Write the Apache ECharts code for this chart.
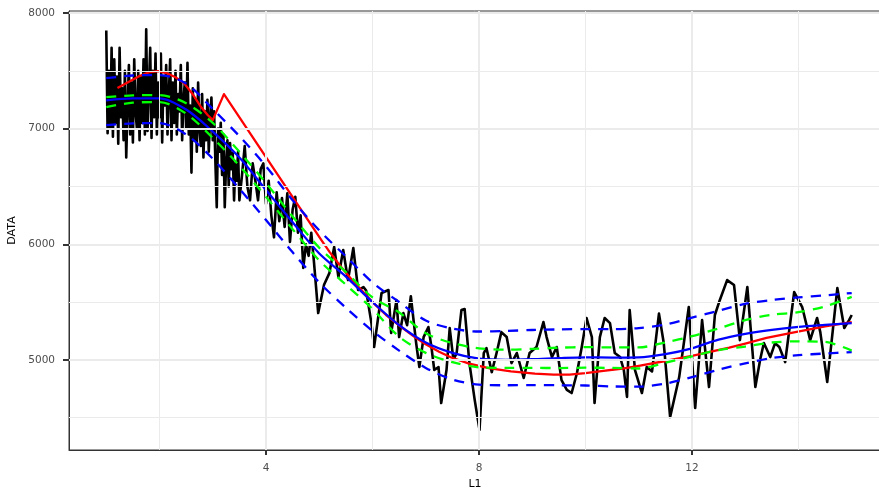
<!DOCTYPE html>
<html>
<head>
<meta charset="utf-8">
<script src="https://cdn.jsdelivr.net/npm/echarts@6/dist/echarts.min.js"></script>
<style>
  html, body { margin: 0; padding: 0; background: #ffffff; }
  #chart { width: 879px; height: 489px; }
</style>
</head>
<body>
<div id="chart"></div>
<script>
// Observed series (L1 vs DATA)
const blackX = [
  1.000, 1.025, 1.050, 1.075, 1.100, 1.125, 1.150, 1.175, 1.200, 1.225,
  1.250, 1.275, 1.300, 1.325, 1.350, 1.375, 1.400, 1.425, 1.450, 1.475,
  1.500, 1.525, 1.550, 1.575, 1.600, 1.625, 1.650, 1.675, 1.700, 1.725,
  1.750, 1.775, 1.800, 1.825, 1.850, 1.875, 1.900, 1.925, 1.950, 1.975,
  2.000, 2.025, 2.050, 2.075, 2.100, 2.125, 2.150, 2.175, 2.200, 2.225,
  2.250, 2.275, 2.300, 2.325, 2.350, 2.375, 2.400, 2.425, 2.450, 2.475,
  2.500, 2.525, 2.550, 2.575, 2.600, 2.625, 2.650, 2.675, 2.700, 2.725,
  2.750, 2.775, 2.800, 2.825, 2.850, 2.875, 2.900, 2.925, 2.950, 2.975,
  3.000, 3.025, 3.050, 3.075, 3.100, 3.125, 3.150, 3.175, 3.200, 3.225,
  3.250, 3.275, 3.300, 3.325, 3.350, 3.375, 3.400, 3.425, 3.450, 3.475,
  3.500, 3.55, 3.60, 3.65, 3.70, 3.75, 3.80, 3.85, 3.90, 3.95,
  4.00, 4.05, 4.10, 4.15, 4.20, 4.25, 4.30, 4.35, 4.40, 4.45,
  4.50, 4.55, 4.60, 4.65, 4.70, 4.75, 4.80, 4.85, 4.90, 4.94,
  4.98, 5.09, 5.19, 5.28, 5.36, 5.45, 5.54, 5.64, 5.73, 5.83,
  5.88, 5.98, 6.03, 6.17, 6.30, 6.35, 6.45, 6.50, 6.58, 6.65,
  6.72, 6.82, 6.88, 6.96, 7.05, 7.11, 7.16, 7.24, 7.29, 7.39,
  7.45, 7.52, 7.58, 7.67, 7.73, 7.82, 7.92, 8.01, 8.09, 8.14,
  8.24, 8.33, 8.42, 8.52, 8.61, 8.71, 8.84, 8.95, 9.08, 9.21,
  9.27, 9.37, 9.46, 9.55, 9.65, 9.74, 9.84, 9.93, 10.02, 10.12,
  10.17, 10.27, 10.36, 10.46, 10.55, 10.65, 10.72, 10.78, 10.83, 10.93,
  11.06, 11.15, 11.25, 11.38, 11.47, 11.59, 11.76, 11.94, 12.06, 12.19,
  12.32, 12.43, 12.51, 12.66, 12.79, 12.90, 13.04, 13.19, 13.28, 13.35,
  13.47, 13.56, 13.64, 13.75, 13.92, 14.07, 14.22, 14.35, 14.41, 14.54,
  14.73, 14.86, 14.95, 15.00
];
const blackY = [
  7850, 6960, 7500, 7000, 7700, 6930, 7600, 7050, 7450, 6870,
  7700, 7100, 7350, 6900, 7500, 6750, 7200, 7550, 6950, 7400,
  6880, 7600, 7150, 7000, 7500, 6900, 7450, 7050, 7600, 6950,
  7860, 6980, 7350, 7700, 6920, 7500, 7100, 7650, 6950, 7400,
  7100, 7650, 6880, 7450, 7200, 7550, 6950, 7300, 7600, 6900,
  7400, 7050, 7500, 6950, 7300, 7150, 7550, 6900, 7250, 7400,
  7000, 7570, 6950, 7200, 6620, 7350, 6900, 7250, 6800, 7400,
  7000, 6850, 7300, 6750, 7150, 6900, 7250, 6800, 7100, 7270,
  6900, 7150, 6700, 6320, 7000, 6800, 7050, 6600, 6950, 6320,
  6700, 6900, 6500, 6875, 6650, 6790, 6380, 6700, 6550, 6800,
  6380, 6600, 6850, 6500, 6380, 6700, 6550, 6380, 6650, 6700,
  6350, 6550, 6250, 6060, 6450, 6200, 6400, 6150, 6440, 6020,
  6300, 6410, 6100, 6250, 5795, 6000, 5900, 6100, 5850, 5630,
  5405, 5650, 5750, 5976, 5716, 5950, 5690, 5967, 5604, 5630,
  5600, 5318, 5111, 5578, 5604, 5232, 5517, 5197, 5405, 5300,
  5550, 5145, 4938, 5197, 5284, 5100, 4912, 4938, 4626, 4912,
  5275, 5000, 5059, 5431, 5440, 4972, 4652, 4393, 5059, 5102,
  4894, 5059, 5240, 5197, 4972, 5059, 4843, 5059, 5111, 5327,
  5197, 5024, 5111, 4825, 4740, 4713, 4886, 5111, 5362, 5197,
  4626, 5197, 5362, 5318, 5059, 5024, 4912, 4679, 5431, 4912,
  4713, 4938, 4900, 5400, 5145, 4505, 4851, 5457, 4583, 5344,
  4765, 5388, 5500, 5690, 5647, 5171, 5630, 4765, 5000, 5145,
  5024, 5145, 5111, 4981, 5587, 5457, 5171, 5362, 5240, 4808,
  5621, 5275, 5344, 5388
];

// Red smoother (kinked near L1 = 3, straight run down to about 5)
const redX = [1.21, 1.4, 1.6, 1.8, 1.97, 2.15, 2.3, 2.46, 2.62, 2.78, 2.9, 3.0, 3.21, 5.04, 5.2, 5.4, 5.6, 5.8, 6.0, 6.25, 6.54, 6.8, 7.0, 7.25, 7.48, 7.8, 8.18, 8.6, 9.05, 9.4, 9.7, 10.0, 10.3, 10.7, 11.0, 11.5, 12.0, 12.4, 12.7, 13.0, 13.4, 13.94, 14.5, 15.0];
const redY = [7351, 7400, 7450, 7487, 7498, 7478, 7445, 7394, 7300, 7187, 7120, 7074, 7299, 6036, 5930, 5810, 5700, 5600, 5500, 5390, 5284, 5195, 5135, 5070, 5020, 4970, 4929, 4900, 4880, 4872, 4872, 4885, 4903, 4925, 4948, 4990, 5035, 5075, 5105, 5140, 5190, 5240, 5290, 5327];

// Fitted curve with its two bands, on a common L1 grid
const bandX = [1, 1.5, 2, 2.5, 3, 3.5, 4, 4.5, 5, 5.5, 6, 6.5, 7, 7.5, 8, 8.5, 9, 9.5, 10, 10.5, 11, 11.5, 12, 12.5, 13, 13.5, 14, 14.5, 15];
const fitY = [7245, 7262, 7262, 7165, 6975, 6750, 6470, 6190, 5920, 5720, 5500, 5300, 5150, 5060, 5010, 5000, 5005, 5015, 5022, 5020, 5022, 5050, 5100, 5175, 5225, 5260, 5285, 5302, 5318];
const outerUpper = [7437, 7460, 7464, 7390, 7170, 6935, 6675, 6380, 6120, 5895, 5670, 5500, 5340, 5270, 5245, 5250, 5258, 5263, 5266, 5266, 5275, 5305, 5365, 5425, 5485, 5518, 5540, 5558, 5578];
const outerLower = [7031, 7045, 7048, 6950, 6740, 6480, 6210, 5930, 5670, 5450, 5250, 5080, 4930, 4830, 4785, 4780, 4782, 4780, 4778, 4770, 4768, 4795, 4850, 4915, 4970, 5015, 5040, 5055, 5067];
const innerUpper = [7273, 7288, 7290, 7220, 7050, 6800, 6530, 6240, 5970, 5760, 5540, 5410, 5230, 5145, 5100, 5088, 5095, 5105, 5110, 5108, 5108, 5150, 5205, 5272, 5344, 5390, 5412, 5462, 5545];
const innerLower = [7187, 7225, 7230, 7130, 6920, 6680, 6410, 6130, 5860, 5650, 5440, 5200, 5060, 4980, 4935, 4930, 4930, 4929, 4932, 4930, 4925, 4975, 5030, 5085, 5115, 5150, 5160, 5155, 5080];

// Axis ticks and grid lines
const xTicks = [4, 8, 12];
const xMinor = [2, 6, 10, 14];
const yTicks = [5000, 6000, 7000, 8000];
const yMinor = [4500, 5500, 6500, 7500];

const zip = (xs, ys) => xs.map((x, i) => [x, ys[i]]);

const chart = echarts.init(document.getElementById('chart'), null, { renderer: 'canvas' });

const gridColor = '#ebebeb';
const labelFont = { color: '#4d4d4d', fontFamily: 'DejaVu Sans', fontSize: 10.5 };

const gridLines = [
  ...xMinor.map(v => ({ xAxis: v, lineStyle: { color: gridColor, width: 1, type: 'solid' } })),
  ...xTicks.map(v => ({ xAxis: v, lineStyle: { color: gridColor, width: 2, type: 'solid' } })),
  ...yMinor.map(v => ({ yAxis: v, lineStyle: { color: gridColor, width: 1, type: 'solid' } })),
  ...yTicks.map(v => ({ yAxis: v, lineStyle: { color: gridColor, width: 2, type: 'solid' } }))
];

function curve(name, xs, ys, color, dashed, z, smooth) {
  return {
    name: name,
    type: 'line',
    data: zip(xs, ys),
    showSymbol: false,
    smooth: smooth,
    z: z,
    lineStyle: { color: color, width: 2.3, type: dashed ? [10, 8] : 'solid', join: 'round' }
  };
}

chart.setOption({
  animation: false,
  backgroundColor: '#ffffff',
  grid: {
    left: 69, top: 11, right: -2, bottom: 39,
    outerBoundsMode: 'none',
    containLabel: false,
    show: true, borderColor: '#333333', borderWidth: 1, backgroundColor: 'transparent'
  },
  xAxis: {
    type: 'value',
    min: 0.3, max: 15.55,
    name: 'L1', nameLocation: 'middle', nameGap: 29,
    nameTextStyle: { color: '#000000', fontFamily: 'DejaVu Sans', fontSize: 11 },
    axisLine: { show: true, onZero: false, lineStyle: { color: '#333333', width: 1 } },
    axisTick: { show: true, customValues: xTicks, length: 5, lineStyle: { color: '#333333', width: 2 } },
    axisLabel: Object.assign({ customValues: xTicks, margin: 13, formatter: v => String(v) }, labelFont),
    splitLine: { show: false }
  },
  yAxis: {
    type: 'value',
    min: 4220, max: 8018,
    name: 'DATA', nameLocation: 'middle', nameGap: 43, nameRotate: 90,
    nameTextStyle: { color: '#000000', fontFamily: 'DejaVu Sans', fontSize: 11 },
    axisLine: { show: true, onZero: false, lineStyle: { color: '#333333', width: 1 } },
    axisTick: { show: true, customValues: yTicks, length: 6, lineStyle: { color: '#333333', width: 2 } },
    axisLabel: Object.assign({ customValues: yTicks, margin: 14, formatter: v => String(v) }, labelFont),
    splitLine: { show: false }
  },
  series: [
    {
      name: 'grid',
      type: 'line',
      data: [],
      z: 0,
      silent: true,
      markLine: {
        silent: true,
        animation: false,
        symbol: ['none', 'none'],
        label: { show: false },
        emphasis: { disabled: true },
        data: gridLines
      }
    },
    {
      name: 'DATA',
      type: 'line',
      data: zip(blackX, blackY),
      showSymbol: false,
      z: 2,
      lineStyle: { color: '#000000', width: 2.6, join: 'round' }
    },
    curve('red', redX, redY, '#ff0000', false, 3, false),
    curve('fit', bandX, fitY, '#0000ff', false, 4, 0.3),
    curve('outer upper', bandX, outerUpper, '#0000ff', true, 5, 0.3),
    curve('outer lower', bandX, outerLower, '#0000ff', true, 5, 0.3),
    curve('inner upper', bandX, innerUpper, '#00ff00', true, 6, 0.3),
    curve('inner lower', bandX, innerLower, '#00ff00', true, 6, 0.3)
  ]
});
</script>
</body>
</html>
